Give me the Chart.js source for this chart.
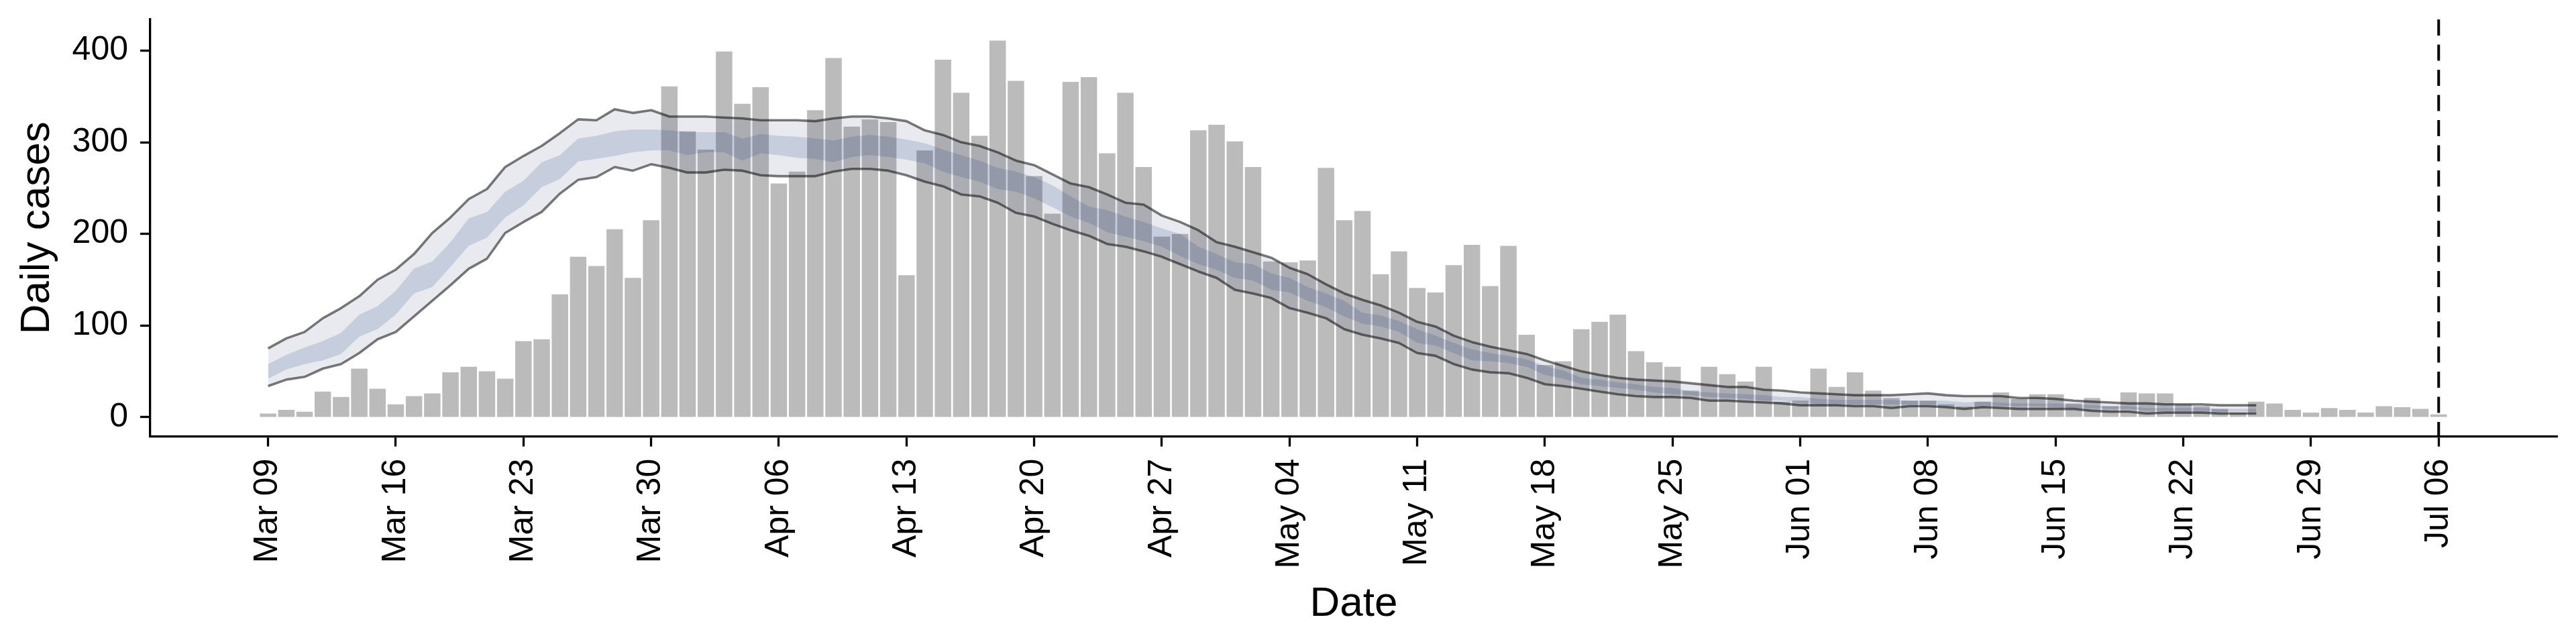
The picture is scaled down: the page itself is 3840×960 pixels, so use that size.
<!DOCTYPE html>
<html>
<head>
<meta charset="utf-8">
<title>Daily cases</title>
<style>
  html, body { margin: 0; padding: 0; background: #fff; }
  canvas { display: block; }
</style>
<script src="https://cdn.jsdelivr.net/npm/chart.js@4.4.1/dist/chart.umd.min.js"></script>
</head>
<body>
<canvas id="casesChart" width="3840" height="960"></canvas>
<script>
"use strict";

// x positions are days since Mar 09
const tickDays = [0, 7, 14, 21, 28, 35, 42, 49, 56, 63, 70, 77, 84, 91, 98, 105, 112, 119];
const tickLabels = ["Mar 09", "Mar 16", "Mar 23", "Mar 30", "Apr 06", "Apr 13", "Apr 20", "Apr 27", "May 04",
  "May 11", "May 18", "May 25", "Jun 01", "Jun 08", "Jun 15", "Jun 22", "Jun 29", "Jul 06"];
const yTicks = [0, 100, 200, 300, 400];
const forecastDay = 119;

// reported cases, Mar 09 .. Jul 06
const dailyCases = [
  4, 8, 6, 28, 22, 53, 31, 14, 23, 26, 49, 55, 50, 42, 83, 85, 134, 175, 165, 205, 152, 215, 361,
  312, 292, 399, 342, 360, 255, 268, 335, 392, 317, 325, 322, 155, 291, 390, 354, 307, 411, 367, 263, 222, 366, 371, 288, 354, 273, 197, 200, 313, 319,
  301, 273, 170, 169, 171, 272, 215, 225, 156, 181, 141, 136, 166, 188, 143, 187, 90, 57, 61, 96, 104, 112, 72, 60, 55, 29, 55, 47, 39, 55, 17,
  18, 53, 33, 49, 29, 21, 18, 18, 14, 12, 17, 27, 20, 25, 25, 15, 21, 12, 27, 26, 26, 14, 12, 9, 5, 17, 15, 8, 5, 10,
  8, 5, 12, 11, 9, 3
];

// estimate bands, Mar 09 .. Jun 26
const upper90 = [
  75, 86, 93, 108, 119, 132, 150, 161, 178, 201, 218, 238, 249, 273, 285, 296, 310, 325, 324, 336, 332, 335, 328,
  328, 328, 327, 326, 324, 324, 324, 323, 326, 328, 328, 326, 323, 313, 308, 300, 296, 289, 280, 275, 265, 255,
  251, 243, 234, 232, 220, 213, 204, 191,
  186, 180, 174, 163, 156, 145, 135, 128, 122, 114, 104, 99, 89, 82, 77,
  73, 69, 62, 56, 50, 46, 43, 41, 40, 39, 37, 35, 33, 33, 30, 29,
  27, 26, 25, 24, 24, 24, 25,
  26, 24, 23, 23, 23, 21, 21, 20, 18, 17, 16, 15, 15, 14,
  14, 14, 13, 13, 13
];
const lower90 = [
  34, 41, 44, 53, 58, 70, 85, 93, 110, 127, 144, 162, 173, 201, 213, 224, 244, 259, 262, 273, 269, 276, 272,
  267, 267, 270, 269, 264, 263, 263, 263, 268, 271, 271, 269, 264, 257, 252, 243, 241, 234, 223, 219, 211, 204,
  198, 189, 186, 181, 175, 167, 159, 152,
  139, 135, 130, 119, 114, 108, 96, 90, 86, 81, 70, 67, 58, 52, 49,
  48, 43, 36, 34, 31, 28, 25, 23, 22, 22, 21, 18, 18, 17, 16, 15,
  13, 13, 13, 12, 12, 10, 12,
  12, 11, 9, 11, 10, 9, 9, 9, 9, 7, 6, 6, 4, 5,
  5, 5, 4, 4, 4
];
const upper50 = [
  58, 68, 76, 83, 92, 112, 121, 138, 162, 170, 191, 217, 224, 246, 258, 278, 286, 304, 307, 312, 314, 314, 313,
  311, 311, 311, 304, 309, 307, 306, 304, 302, 306, 308, 306, 303, 299, 292, 286, 280, 272, 268, 262, 253, 241,
  230, 226, 219, 213, 206, 200, 186, 178,
  169, 167, 157, 152, 142, 135, 127, 114, 111, 105, 96, 89, 81, 74, 70,
  67, 63, 56, 51, 43, 41, 38, 36, 33, 32, 28, 27, 26, 25, 24, 22,
  22, 20, 19, 19, 19, 19, 18,
  18, 18, 16, 17, 16, 15, 15, 15, 14, 13, 12, 12, 10, 10,
  10, 10, 9, 9, 9
];
const lower50 = [
  42, 52, 58, 62, 69, 88, 96, 112, 135, 142, 164, 187, 196, 218, 231, 251, 260, 279, 282, 285, 289, 291, 291,
  286, 289, 289, 280, 288, 286, 283, 282, 278, 284, 286, 284, 281, 277, 268, 262, 257, 249, 246, 239, 229, 219,
  212, 202, 197, 192, 186, 176, 167, 161,
  152, 149, 139, 136, 127, 120, 110, 102, 99, 93, 81, 78, 70, 62, 61,
  59, 55, 46, 42, 36, 34, 32, 30, 27, 25, 24, 22, 21, 20, 18, 18,
  16, 15, 15, 14, 14, 14, 14,
  14, 13, 12, 13, 12, 12, 12, 11, 10, 10, 9, 9, 7, 7,
  7, 7, 6, 6, 6
];

const FONT = '"Liberation Sans", Arial, Helvetica, sans-serif';

function toPoints(values) {
  return values.map((y, day) => ({ x: day, y }));
}

function bandEdge(values, extra) {
  return {
    type: "line",
    data: toPoints(values),
    borderColor: "transparent",
    borderWidth: 0,
    pointRadius: 0,
    tension: 0,
    ...extra
  };
}

const forecastLine = {
  id: "forecastLine",
  afterDatasetsDraw(chart) {
    const { ctx, chartArea, scales } = chart;
    const x = scales.x.getPixelForValue(forecastDay);
    ctx.save();
    ctx.strokeStyle = "#000";
    ctx.lineWidth = 4;
    ctx.setLineDash([24, 13.5]);
    ctx.beginPath();
    ctx.moveTo(x, chartArea.top);
    ctx.lineTo(x, chartArea.bottom);
    ctx.stroke();
    ctx.restore();
  }
};

const axisLine = { display: true, color: "#000", width: 3.3 };
const axisTicks = {
  offset: false,
  drawOnChartArea: false,
  drawTicks: true,
  tickLength: 15,
  tickWidth: 3.3,
  tickColor: "#000"
};

const lineStyle = {
  type: "line",
  borderColor: "rgba(0, 0, 0, 0.52)",
  borderWidth: 3.6,
  borderJoinStyle: "round",
  pointRadius: 0,
  tension: 0,
  fill: false,
  order: 0
};

window.addEventListener("DOMContentLoaded", () => {
  Chart.defaults.font.family = FONT;
  Chart.defaults.color = "#000";

  new Chart(document.getElementById("casesChart"), {
    type: "bar",
    data: {
      datasets: [
        { ...lineStyle, data: toPoints(upper90) },
        { ...lineStyle, data: toPoints(lower90) },
        bandEdge(upper50, { order: 1, fill: 3, backgroundColor: "rgba(21, 58, 116, 0.17)" }),
        bandEdge(lower50, { order: 1, fill: false }),
        bandEdge(upper90, { order: 2, fill: 5, backgroundColor: "rgba(35, 45, 105, 0.10)" }),
        bandEdge(lower90, { order: 2, fill: false }),
        {
          type: "bar",
          data: toPoints(dailyCases),
          backgroundColor: "#bbbbbb",
          borderWidth: 0,
          categoryPercentage: 1,
          barPercentage: 0.9,
          order: 3
        }
      ]
    },
    options: {
      responsive: false,
      devicePixelRatio: 1,
      animation: false,
      events: [],
      layout: { padding: { left: 0, right: 28, top: 29, bottom: 0 } },
      plugins: {
        legend: { display: false },
        tooltip: { enabled: false }
      },
      scales: {
        x: {
          type: "linear",
          min: -6.46,
          max: 125.5,
          offset: false,
          afterBuildTicks: (scale) => {
            scale.ticks = tickDays.map((value) => ({ value }));
          },
          afterFit: (scale) => {
            scale.height = 309.4;
            scale.paddingLeft = 0;
            scale.paddingRight = 0;
          },
          ticks: {
            autoSkip: false,
            minRotation: 90,
            maxRotation: 90,
            padding: 18,
            color: "#000",
            font: { size: 50 },
            callback: (value, index) => tickLabels[index]
          },
          grid: axisTicks,
          border: axisLine,
          title: {
            display: true,
            text: "Date",
            color: "#000",
            font: { size: 62 },
            padding: { top: 0, bottom: 22 }
          }
        },
        y: {
          min: -21,
          max: 434,
          afterBuildTicks: (scale) => {
            scale.ticks = yTicks.map((value) => ({ value }));
          },
          afterFit: (scale) => {
            scale.width = 224;
            scale.paddingTop = 0;
            scale.paddingBottom = 0;
          },
          ticks: {
            padding: 18,
            color: "#000",
            font: { size: 50 }
          },
          grid: axisTicks,
          border: axisLine,
          title: {
            display: true,
            text: "Daily cases",
            color: "#000",
            font: { size: 62 },
            padding: { top: 19, bottom: 0 }
          }
        }
      }
    },
    plugins: [forecastLine]
  });
});
</script>
</body>
</html>
